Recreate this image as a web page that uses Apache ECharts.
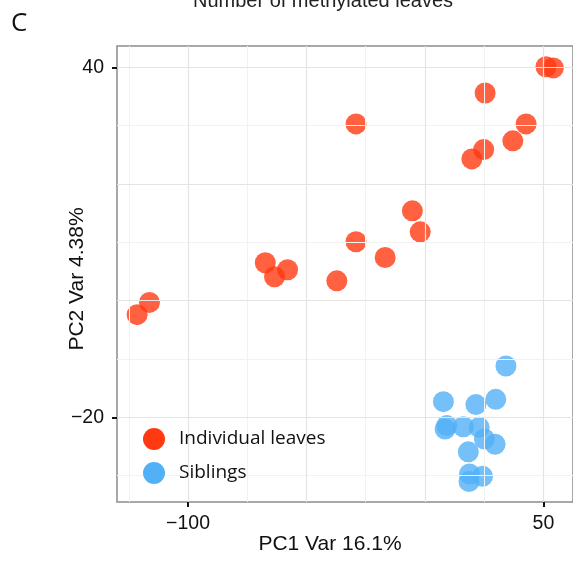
<!DOCTYPE html>
<html><head><meta charset="utf-8">
<script src="https://cdn.jsdelivr.net/npm/echarts@6/dist/echarts.min.js"></script>
<style>html,body{margin:0;padding:0;background:#fff}#c{width:573px;height:561px}</style>
</head><body><div id="c"></div>
<script>
// Individual leaves (red)
const indivX = [51.1, 54.2, 25.4, -29.1, 42.7, 37.1, 24.8, 19.8, -5.3, -2.0, -29.1, -16.8, -37.2, -67.4, -58.0, -63.5, -116.3, -121.5];
const indivY = [40.1, 39.9, 35.6, 30.3, 30.3, 27.4, 25.9, 24.3, 15.4, 11.8, 10.1, 7.4, 3.4, 6.5, 5.3, 4.1, -0.3, -2.4];
// Siblings (blue)
const sibX = [7.8, 21.5, 29.9, 9.2, 8.5, 16.2, 22.9, 25.1, 29.6, 18.3, 18.8, 24.3, 18.6, 34.2];
const sibY = [-17.3, -17.8, -16.9, -21.4, -22.0, -21.6, -21.7, -23.7, -24.6, -25.9, -29.7, -30.1, -31.0, -11.2];

const seriesNames = ['Individual leaves', 'Siblings'];
const xTickValues = [-100, 50];
const yTickValues = [-20, 40];
const xGridMajor = [-100, -50, 0, 50];
const xGridMinor = [-125, -75, -25, 25];
const yGridMajor = [-20, 0, 20, 40];
const yGridMinor = [-30, -10, 10, 30];

const RED = '#FF3A12', BLUE = '#52B0F6';
const MAJOR = '#e4e4e4', MINOR = '#f2f2f2';
const minus = v => String(v).replace('-', '\u2212');
const zip = (a, b) => a.map((v, i) => [v, b[i]]);

const gridLines = [
  ...xGridMinor.map(v => ({xAxis: v, lineStyle: {color: MINOR, width: 1, type: 'solid'}})),
  ...yGridMinor.map(v => ({yAxis: v, lineStyle: {color: MINOR, width: 1, type: 'solid'}})),
  ...xGridMajor.map(v => ({xAxis: v, lineStyle: {color: MAJOR, width: 1.2, type: 'solid'}})),
  ...yGridMajor.map(v => ({yAxis: v, lineStyle: {color: MAJOR, width: 1.2, type: 'solid'}}))
];

const chart = echarts.init(document.getElementById('c'), null, {renderer: 'canvas'});
chart.setOption({
  animation: false,
  backgroundColor: '#fff',
  grid: {left: 117, right: 0, top: 46, bottom: 59, show: true, borderColor: '#8c8c8c', borderWidth: 1.5, backgroundColor: 'transparent', containLabel: false},
  xAxis: {
    type: 'value', min: -130, max: 62.5,
    axisLine: {show: false, onZero: false},
    splitLine: {show: false},
    axisTick: {show: true, customValues: xTickValues, length: 5, lineStyle: {color: '#111', width: 2}},
    axisLabel: {show: true, customValues: xTickValues, margin: 12, formatter: minus,
      fontFamily: 'Liberation Sans', fontSize: 19.5, color: '#111'}
  },
  yAxis: {
    type: 'value', min: -34.5, max: 43.65,
    axisLine: {show: false, onZero: false},
    splitLine: {show: false},
    axisTick: {show: true, customValues: yTickValues, length: 5, lineStyle: {color: '#111', width: 2}},
    axisLabel: {show: true, customValues: yTickValues, margin: 13, formatter: minus,
      fontFamily: 'Liberation Sans', fontSize: 19.5, color: '#111'}
  },
  legend: {
    data: seriesNames, orient: 'vertical', left: 138, top: 423, z: 20,
    itemWidth: 40, itemHeight: 22, itemGap: 12, icon: 'circle',
    itemStyle: {opacity: 1},
    textStyle: {fontFamily: 'Open Sans', fontSize: 19, color: '#111'}
  },
  graphic: [
    {type: 'text', left: 11, top: 11, style: {text: 'C', font: '26px "Open Sans"', fill: '#111'}},
    {type: 'text', x: 323, y: 1, style: {text: 'Number of methylated leaves', font: '20px "Liberation Sans"', fill: '#222', align: 'center', verticalAlign: 'middle'}},
    {type: 'text', x: 330, y: 544, style: {text: 'PC1 Var 16.1%', font: '21px "Liberation Sans"', fill: '#111', align: 'center', verticalAlign: 'middle'}},
    {type: 'text', x: 77, y: 279, rotation: Math.PI / 2, style: {text: 'PC2 Var 4.38%', font: '21px "Liberation Sans"', fill: '#111', align: 'center', verticalAlign: 'middle'}}
  ],
  series: [
    {type: 'scatter', name: 'gridlines', data: [], z: 0, zlevel: 0, silent: true,
      markLine: {silent: true, symbol: ['none', 'none'], label: {show: false}, animation: false, data: gridLines}},
    {type: 'scatter', name: seriesNames[0], data: zip(indivX, indivY), symbolSize: 21, z: 3,
      itemStyle: {color: RED, opacity: 0.8}},
    {type: 'scatter', name: seriesNames[1], data: zip(sibX, sibY), symbolSize: 21, z: 3,
      itemStyle: {color: BLUE, opacity: 0.8}}
  ]
});
</script></body></html>
